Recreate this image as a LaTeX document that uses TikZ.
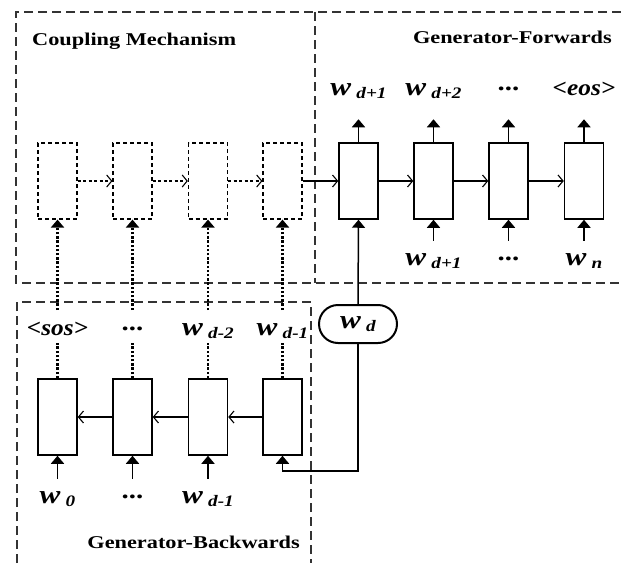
\documentclass[tikz,border=0pt]{standalone}
\usepackage{fontspec}
\setmainfont{Liberation Serif}
\usetikzlibrary{arrows.meta,shapes.misc}
\newcommand{\wlab}[1]{\scalebox{1.2}[1]{\fontsize{26}{26}\selectfont\bfseries\itshape w\,\raisebox{-3pt}{\fontsize{16}{16}\selectfont #1}}}
\newcommand{\tlab}[1]{\scalebox{1.1}[1]{\fontsize{23}{23}\selectfont\bfseries\itshape #1}}
\newcommand{\dlab}{\scalebox{1.2}[1]{\fontsize{24}{24}\selectfont\bfseries\raisebox{5pt}{...}}}
\newcommand{\ttl}[1]{\scalebox{1.24}[1]{\fontsize{18}{18}\selectfont\bfseries #1}}
\tikzset{
  cell/.style={draw, line width=1.5pt, minimum width=39pt, minimum height=76pt, inner sep=0pt},
  ccell/.style={cell, dash pattern=on 4pt off 3pt, line width=1.2pt},
  region/.style={draw, line width=1.2pt, dash pattern=on 9pt off 5pt, black!80},
  flow/.style={line width=1.4pt, -{Straight Barb[length=5pt,width=12pt,line width=1.1pt]}},
  cflow/.style={flow, dash pattern=on 3pt off 2.5pt, line width=1.2pt},
  up/.style={line width=1.5pt, -{Triangle[length=8pt,width=13pt]}},
  dots/.style={line width=2.2pt, dash pattern=on 2.4pt off 1.8pt},
  updots/.style={dots, -{Triangle[length=8pt,width=13pt]}},
  lab/.style={anchor=base, inner sep=3pt},
  ttlnode/.style={anchor=base, inner sep=0pt},
}
\begin{document}
\begin{tikzpicture}[x=1pt,y=-1pt]
\useasboundingbox (0,0) rectangle (621,563);
% regions
\draw[region] (621,12) -- (16,12) -- (16,283) -- (621,283);
\draw[region] (315,12) -- (315,283);
\draw[region] (17,563) -- (17,302) -- (311,302) -- (311,563);
% titles
\node[ttlnode, anchor=base west] (t1) at (32,45) {\ttl{Coupling Mechanism}};
\node[ttlnode, anchor=base east] (t2) at (612,43) {\ttl{Generator-Forwards}};
\node[ttlnode, anchor=base east] (t3) at (300,548) {\ttl{Generator-Backwards}};
% cells
\foreach \i/\x in {1/57.5,2/132.5,3/208,4/282.5} {
  \node[ccell] (c\i) at (\x,181) {};
  \node[cell] (b\i) at (\x,417) {};
}
\foreach \i/\x in {1/358.5,2/433.5,3/508.5,4/584} {
  \node[cell] (f\i) at (\x,181) {};
}
% horizontal flows
\draw[cflow] (c1) -- (c2);
\draw[cflow] (c2) -- (c3);
\draw[cflow] (c3) -- (c4);
\draw[flow] (c4) -- (f1);
\draw[flow] (f1) -- (f2);
\draw[flow] (f2) -- (f3);
\draw[flow] (f3) -- (f4);
\draw[flow] (b4) -- (b3);
\draw[flow] (b3) -- (b2);
\draw[flow] (b2) -- (b1);
% forward outputs
\node[lab] (o1) at (358.5,95) {\wlab{d+1}};
\node[lab] (o2) at (433.5,95) {\wlab{d+2}};
\node[lab] (o3) at (508.5,95) {\dlab};
\node[lab] (o4) at (584,95) {\tlab{<eos>}};
\foreach \i in {1,...,4} {
  \coordinate (ou\i) at ([yshift=23pt]f\i.north);
  \draw[up] (f\i.north) -- (ou\i);
}
% forward inputs
\node[lab] (i2) at (433.5,265) {\wlab{d+1}};
\node[lab] (i3) at (508.5,265) {\dlab};
\node[lab] (i4) at (584,265) {\wlab{n}};
\foreach \i in {2,3,4} {
  \coordinate (iu\i) at ([yshift=-21pt]f\i.south);
  \draw[up] (iu\i) -- (f\i.south);
}
% w_d
\node[draw, rounded rectangle, line width=2pt, minimum width=78pt, minimum height=38pt, inner sep=0pt] (wd) at (358,324) {\wlab{d}};
\draw[up] (wd.north) -- (f1.south);
\coordinate (turn) at (358,471);
\draw[up] (wd.south) -- (turn) -| (b4.south);
% backward outputs
\node[lab] (p1) at (57.5,335) {\tlab{<sos>}};
\node[lab] (p2) at (132.5,335) {\dlab};
\node[lab] (p3) at (208,335) {\wlab{d-2}};
\node[lab] (p4) at (282.5,335) {\wlab{d-1}};
\foreach \i/\x in {1/57.5,2/132.5,3/208,4/282.5} {
  \coordinate (pt\i) at (\x,310);
  \coordinate (pb\i) at (\x,343);
  \draw[dots] (b\i.north) -- (pb\i);
  \draw[updots] (pt\i) -- (c\i.south);
}
% backward inputs
\node[lab] (q1) at (57.5,503) {\wlab{0}};
\node[lab] (q2) at (132.5,503) {\dlab};
\node[lab] (q3) at (208,503) {\wlab{d-1}};
\foreach \i in {1,2,3} {
  \coordinate (qu\i) at ([yshift=-23pt]b\i.south);
  \draw[up] (qu\i) -- (b\i.south);
}
\end{tikzpicture}
\end{document}
